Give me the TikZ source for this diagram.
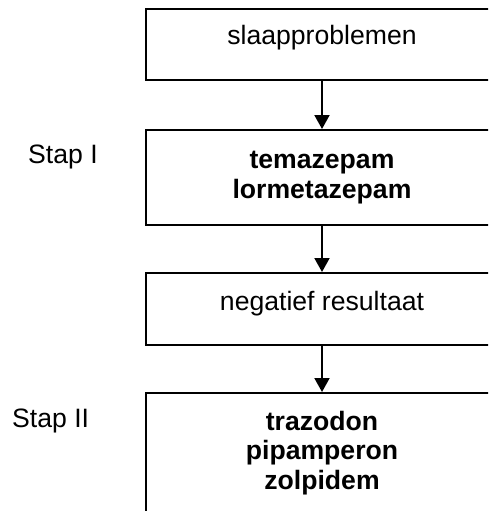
\documentclass[tikz,border=0pt]{standalone}
\usepackage{fontspec}
\setmainfont{Liberation Sans}
\usetikzlibrary{arrows.meta}
\begin{document}
\begin{tikzpicture}[x=1pt,y=-1pt,
  txt/.style={font=\fontsize{26.6}{29.5}\selectfont},
  box/.style={txt, draw=black, line width=2pt, minimum width=352pt,
    inner xsep=0pt, inner ysep=0pt, align=center},
  boldbox/.style={box, font=\fontsize{26.6}{29.5}\selectfont\bfseries},
  lbl/.style={txt, inner sep=0pt, anchor=base west},
  arr/.style={line width=2pt, -{Triangle[width=15pt,length=14pt]}}]
\clip (0,0) rectangle (488,511);
\node[box, minimum height=71pt, text height=36pt, text depth=35pt] (b1) at (322,44.5) {slaapproblemen};
\node[boldbox, minimum height=95pt] (b2) at (322,177.5) {temazepam\\lormetazepam};
\node[box, minimum height=72pt, text height=37pt, text depth=35pt] (b3) at (322,309) {negatief resultaat};
\node[boldbox, minimum height=120pt] (b4) at (322,453) {trazodon\\pipamperon\\zolpidem};
\node[lbl] (s1) at (28,163) {Stap I};
\node[lbl] (s2) at (12,427) {Stap II};
\draw[arr] (b1.south) -- (b2.north);
\draw[arr] (b2.south) -- (b3.north);
\draw[arr] (b3.south) -- (b4.north);
\end{tikzpicture}
\end{document}
